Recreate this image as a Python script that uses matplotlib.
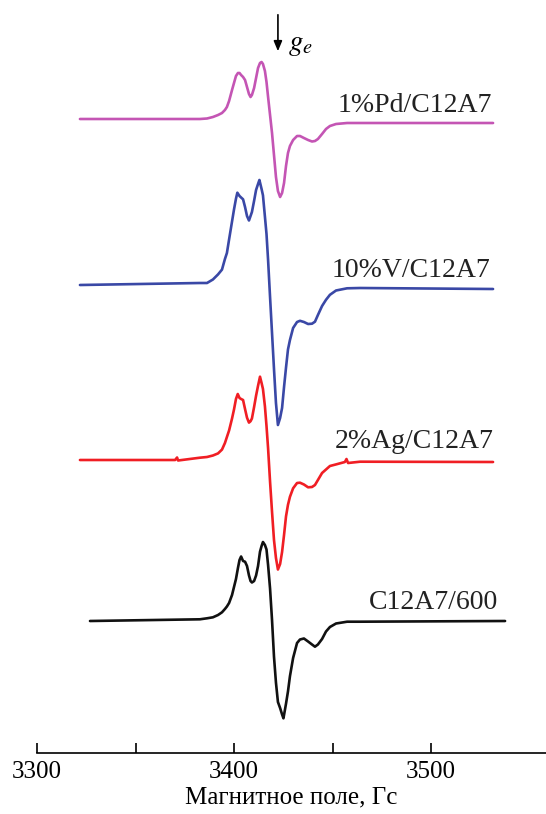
import numpy as np
import matplotlib.pyplot as plt
from matplotlib.ticker import FixedLocator

plt.rcParams['font.family'] = ['Liberation Serif', 'DejaVu Serif']
plt.rcParams['mathtext.fontset'] = 'stix'

# EPR spectra: (field, Gs ; signal, a.u.)
pd_points = [
    (3321.8, 1), (3382.7, 1), (3386.3, 1.5), (3389.3, 3), (3391.9, 5), (3393.9, 7),
    (3395.4, 10), (3396.4, 13), (3397.5, 19), (3399.0, 30), (3400.0, 37), (3401.0, 44),
    (3402.0, 47), (3402.8, 47), (3403.6, 45), (3404.6, 43), (3405.6, 40), (3406.6, 33),
    (3407.6, 26), (3408.4, 23), (3409.1, 25), (3410.2, 32), (3411.2, 42), (3412.2, 52),
    (3413.2, 57), (3414.0, 58), (3414.7, 56), (3415.7, 49), (3416.5, 38), (3417.3, 23),
    (3418.3, 5), (3419.3, -13), (3420.3, -35), (3421.3, -57), (3422.3, -71), (3423.4, -77),
    (3424.4, -73), (3425.4, -63), (3426.4, -46), (3427.4, -33), (3428.4, -26), (3430.0, -20),
    (3432.0, -16), (3433.5, -16), (3435.5, -18), (3437.6, -20), (3439.6, -21.5), (3441.1, -21),
    (3442.6, -19), (3444.7, -14), (3446.7, -9), (3448.7, -6), (3451.8, -4), (3457.4, -3),
    (3464.0, -3), (3531.5, -3),
]

v_points = [
    (3321.8, 0), (3382.7, 2), (3386.3, 2), (3389.3, 5.5), (3391.9, 10.6), (3393.9, 15.4),
    (3395.4, 26), (3396.4, 32), (3397.5, 45.5), (3399.0, 63.5), (3400.0, 75.5), (3401.0, 86.3),
    (3401.7, 92.3), (3402.8, 89), (3403.6, 87.5), (3404.6, 85.7), (3405.6, 78), (3406.6, 69),
    (3407.6, 64.5), (3408.4, 69), (3409.1, 73), (3410.2, 84.2), (3411.2, 95), (3412.2, 101),
    (3412.9, 105), (3414.0, 96), (3414.7, 89.7), (3415.7, 68.3), (3416.5, 51), (3417.3, 25),
    (3418.3, -12), (3419.3, -48), (3420.3, -84), (3421.3, -118), (3422.3, -140), (3423.4, -133),
    (3424.4, -123), (3425.4, -102), (3426.4, -82.6), (3427.4, -64.5), (3428.4, -55), (3430.0, -43),
    (3432.0, -37), (3433.5, -35.8), (3435.5, -37), (3437.6, -39), (3439.6, -38.7), (3441.1, -36.7),
    (3442.6, -30), (3444.7, -21), (3446.7, -14.8), (3448.7, -9.8), (3451.8, -5.5), (3457.4, -3.3),
    (3464.0, -3), (3531.5, -4),
]

ag_points = [
    (3321.8, 0), (3370.1, 0), (3371.1, 2.5), (3371.6, -0.5), (3382.7, 2.3), (3386.3, 3),
    (3389.3, 4.5), (3391.9, 6.6), (3393.9, 10.4), (3395.4, 17), (3396.4, 23), (3397.5, 29.5),
    (3399.0, 41.5), (3400.0, 50.5), (3401.0, 61), (3401.9, 66), (3402.8, 62), (3403.6, 61),
    (3404.6, 60), (3405.6, 51), (3406.6, 42.3), (3407.6, 37.4), (3408.4, 38.8), (3409.1, 41.5),
    (3410.2, 53), (3411.2, 64.3), (3412.2, 74.2), (3413.2, 83.3), (3414.0, 77), (3414.7, 71),
    (3415.7, 53.6), (3416.5, 34), (3417.3, 11.7), (3418.3, -21.6), (3419.3, -51.7), (3420.3, -80),
    (3421.3, -98), (3422.3, -109.5), (3423.4, -104), (3424.4, -92), (3425.4, -75), (3426.4, -56.4),
    (3427.4, -44.8), (3428.4, -36.8), (3430.0, -28.3), (3432.0, -23), (3433.5, -22.7), (3435.5, -24.5),
    (3437.6, -27.3), (3439.6, -27), (3441.1, -25), (3442.6, -20), (3444.7, -13), (3446.7, -9.5),
    (3448.7, -6), (3451.8, -4.4), (3456.3, -2), (3457.1, 1), (3457.9, -3), (3464.0, -1.7),
    (3531.5, -2),
]

c12_points = [
    (3326.9, -1), (3382.7, 0.7), (3386.3, 1.7), (3389.3, 2.7), (3391.9, 5), (3393.9, 7.7),
    (3395.4, 11), (3396.4, 13.5), (3397.5, 17), (3399.0, 25), (3400.0, 33), (3401.0, 41),
    (3402.0, 52), (3402.8, 60), (3403.6, 63.5), (3404.6, 59), (3405.6, 58.3), (3406.6, 54),
    (3407.6, 44.6), (3408.4, 39), (3409.1, 37.5), (3410.2, 39), (3411.2, 44.5), (3412.2, 54),
    (3413.2, 68.3), (3414.0, 74), (3414.7, 78), (3415.7, 75), (3416.5, 70.5), (3417.3, 55),
    (3418.3, 31.5), (3419.3, 0), (3420.3, -36.7), (3421.3, -62.7), (3422.3, -82), (3423.4, -88),
    (3424.4, -94.4), (3425.1, -98.3), (3426.4, -83.7), (3427.4, -71.4), (3428.4, -56.2),
    (3430.0, -38), (3432.0, -23), (3433.5, -19.5), (3435.5, -18.5), (3437.6, -21.5),
    (3439.6, -24.5), (3441.1, -26.7), (3442.6, -24.5), (3444.7, -19), (3446.7, -11.5),
    (3448.7, -7), (3451.8, -3.5), (3457.4, -1.7), (3464.0, -1.7), (3537.6, -1),
]

names = ['1%Pd/C12A7', '10%V/C12A7', '2%Ag/C12A7', 'C12A7/600']
spectra = [pd_points, v_points, ag_points, c12_points]
colors = ['#c455b4', '#3a48a6', '#f01e24', '#111111']
offsets = [-120, -285, -460, -620]
label_pos = [(3531, -112), (3530, -277), (3532, -448), (3534, -609)]

fig = plt.figure(figsize=(5.46, 8.14), dpi=100)
ax = fig.add_axes([37 / 546, 61 / 814, 509 / 546, 753 / 814])

for pts, off, c, name, (lx, ly) in zip(spectra, offsets, colors, names, label_pos):
    field, sig = np.array(pts).T
    ax.plot(field, off + sig, color=c, lw=1.9, solid_joinstyle='round',
            solid_capstyle='round')
    ax.text(lx, ly, name, ha='right', va='baseline', fontsize=20, color='#222222')

# free-electron g value
ax.annotate('', xy=(3422.3, -54), xytext=(3422.3, -12),
            arrowprops=dict(arrowstyle='-|>,head_width=0.25,head_length=0.6',
                            color='black', lw=1.2))
ax.text(3427.5, -50, r'$g_e$', fontsize=21, ha='left', va='baseline')

ax.set_xlim(3300, 3300 + 509 / 1.97)
ax.set_ylim(-753, 0)
ax.xaxis.set_major_locator(FixedLocator([3300, 3400, 3500]))
ax.xaxis.set_minor_locator(FixedLocator([3350, 3450]))
ax.tick_params(axis='x', which='both', direction='in', length=7, width=1.2,
               labelsize=18, pad=6)
ax.set_yticks([])
for side in ['left', 'right', 'top']:
    ax.spines[side].set_visible(False)
ax.spines['bottom'].set_linewidth(1.2)
ax.set_xlabel('Магнитное поле, Гс', fontsize=18, labelpad=2)

fig.savefig('out.png', dpi=100)
